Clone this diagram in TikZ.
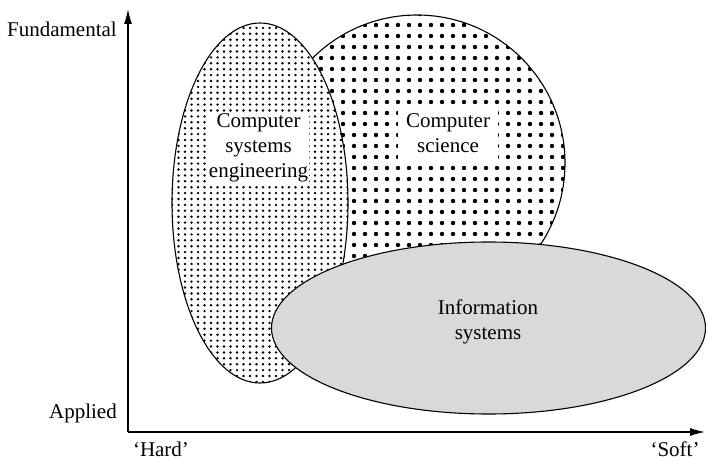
\documentclass[tikz,border=0pt]{standalone}
\usepackage{fontspec}
\setmainfont{Liberation Serif}
\usetikzlibrary{arrows.meta}
\definecolor{isgray}{RGB}{217,217,217}
\begin{document}
\begin{tikzpicture}[x=1pt,y=-1pt,
  outline/.style={draw=black,line width=1.1pt},
  axis/.style={line width=1.2pt,-{Latex[length=15pt,width=8pt]}},
  lbl/.style={font=\fontsize{21}{25}\selectfont,align=center,inner sep=0pt},
  whitebox/.style={lbl,fill=white}]
\useasboundingbox (0,0) rectangle (706,460);
% Computer science circle
\begin{scope}
  \clip (417,163) circle[radius=148pt];
  \fill[white] (417,163) circle[radius=148pt];
  \foreach \x in {266,277,...,570}
    \foreach \y in {14,25,...,315}
      \fill (\x,\y) circle[radius=2.2pt];
\end{scope}
\draw[outline] (417,163) circle[radius=148pt];
% Computer systems engineering ellipse
\begin{scope}
  \fill[white] (260,203) ellipse[x radius=88pt,y radius=180pt];
  \clip (260,203) ellipse[x radius=88pt,y radius=180pt];
  \foreach \x in {172,178.5,...,350}
    \foreach \y in {22,27.9,...,386}
      \fill (\x,\y) circle[radius=1.35pt];
\end{scope}
\draw[outline] (260,203) ellipse[x radius=88pt,y radius=180pt];
% text boxes
\node[whitebox,inner xsep=1pt,inner ysep=0pt,minimum height=70pt] (cse) at (258.5,148) {Computer\\systems\\engineering};
\node[whitebox,minimum width=100pt,minimum height=53pt] (cs) at (448,133) {Computer\\science};
% Information systems ellipse
\draw[outline,fill=isgray] (488.5,328) ellipse[x radius=217pt,y radius=86pt];
\node[lbl] (is) at (488,322) {Information\\systems};
% axes
\coordinate (O) at (128,432);
\coordinate (ytop) at (128,9);
\coordinate (xend) at (705,432);
\draw[axis] (O) -- (ytop);
\draw[axis] (O) -- (xend);
\node[lbl,anchor=east] (fund) at (117,29) {Fundamental};
\node[lbl,anchor=east] (app) at (117,413) {Applied};
\node[lbl,anchor=base] (hard) at (161,456) {`Hard'};
\node[lbl,anchor=base] (soft) at (675,456) {`Soft'};
\end{tikzpicture}
\end{document}
